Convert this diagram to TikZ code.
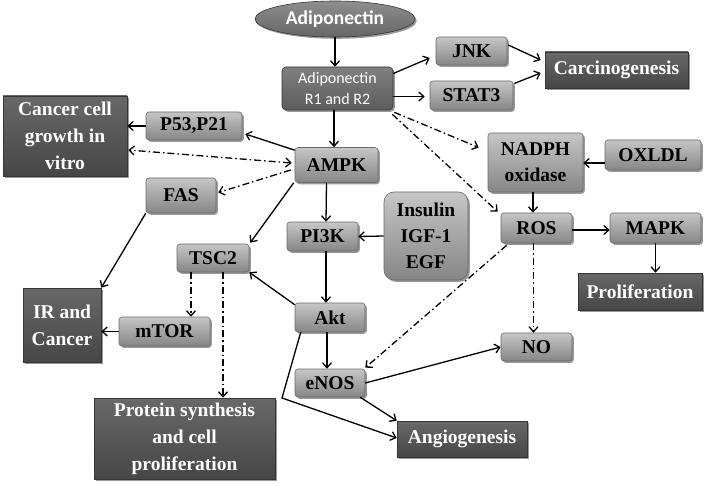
\documentclass[tikz,border=0pt]{standalone}
\usepackage{fontspec}
\setmainfont{Liberation Serif}
\newfontfamily\calib{Carlito}
\usetikzlibrary{arrows.meta,shadows,shapes.geometric}

\definecolor{lbtop}{HTML}{C6C6C6}
\definecolor{lbbot}{HTML}{868686}
\definecolor{lbdraw}{HTML}{6A6A6A}
\definecolor{dbtop}{HTML}{686868}
\definecolor{dbbot}{HTML}{464646}
\definecolor{dbdraw}{HTML}{363636}
\definecolor{eltop}{HTML}{8E8E8E}
\definecolor{elbot}{HTML}{666666}

\tikzset{
  >={Straight Barb[length=5pt,width=9pt]},
  sz/.style 2 args={minimum width=#1pt, minimum height=#2pt},
  base/.style={inner sep=2pt, align=center,
    drop shadow={shadow xshift=1.8pt, shadow yshift=-1.8pt, opacity=.4, fill=black}},
  lbox/.style={base, rounded corners=3pt, draw=lbdraw, line width=.6pt,
    top color=lbtop, bottom color=lbbot, text=black,
    font=\fontsize{19.5}{26}\selectfont\bfseries},
  dbox/.style={base, draw=dbdraw, line width=.6pt,
    top color=dbtop, bottom color=dbbot, text=white,
    font=\fontsize{19.5}{27}\selectfont\bfseries},
  rbox/.style={base, rounded corners=4pt, draw=dbdraw, line width=.6pt,
    top color=eltop!90!black, bottom color=elbot!90!black, text=white,
    font=\calib\fontsize{16}{21}\selectfont},
  ell/.style={base, ellipse, draw=dbdraw, line width=.6pt,
    top color=eltop, bottom color=elbot, text=white,
    font=\calib\fontsize{19.5}{22}\selectfont\bfseries},
  arr/.style={->, line width=1.3pt},
  dd/.style={->, line width=1.3pt, dash pattern=on 7pt off 3pt on 1.5pt off 3pt},
}

\begin{document}
\begin{tikzpicture}[x=1pt,y=-1pt]
\useasboundingbox (0,0) rectangle (711,486);
\fill[white] (0,0) rectangle (711,486);

% nodes
\node[ell,sz={160}{36}] (adipo) at (335,19) {Adiponectin};
\node[rbox,sz={111}{43}] (r12) at (337.5,88.5) {Adiponectin\\R1 and R2};
\node[lbox,sz={71}{28}] (jnk) at (471.5,51) {JNK};
\node[lbox,sz={83}{29}] (stat3) at (471.5,95.5) {STAT3};
\node[dbox,sz={143}{36}] (carc) at (616.5,70) {Carcinogenesis};
\node[dbox,sz={124}{80}] (ccg) at (65,136) {Cancer cell\\growth in\\vitro};
\node[lbox,sz={96}{28}] (p53) at (194,126) {P53,P21};
\node[lbox,sz={83}{35}] (ampk) at (336.5,165) {AMPK};
\node[lbox,sz={95}{59}] (nadph) at (535.5,162.5) {NADPH\\oxidase};
\node[lbox,sz={96}{30}] (oxldl) at (653,155) {OXLDL};
\node[lbox,sz={70}{35}] (fas) at (181,195.5) {FAS};
\node[lbox,sz={71}{29}] (pi3k) at (322.5,236.5) {PI3K};
\node[lbox,sz={84}{88},rounded corners=10pt] (ins) at (426,236) {Insulin\\IGF-1\\EGF};
\node[lbox,sz={72}{28}] (tsc2) at (213,258) {TSC2};
\node[lbox,sz={71}{30}] (ros) at (536.5,228) {ROS};
\node[lbox,sz={91}{30}] (mapk) at (655.5,228) {MAPK};
\node[dbox,sz={124}{37}] (prolif) at (640,291.5) {Proliferation};
\node[lbox,sz={70}{29}] (akt) at (330,317.5) {Akt};
\node[dbox,sz={78}{74}] (irc) at (62,325) {IR and\\Cancer};
\node[lbox,sz={91}{29}] (mtor) at (164.5,331.5) {mTOR};
\node[lbox,sz={71}{28}] (no) at (536.5,347) {NO};
\node[lbox,sz={70}{28}] (enos) at (330,383) {eNOS};
\node[dbox,sz={130}{36}] (angio) at (462,439) {Angiogenesis};
\node[dbox,sz={181}{81}] (prot) at (184.5,438.5) {Protein synthesis\\and cell\\proliferation};
\coordinate (bend) at (282,398);

% connectors
\draw[arr] (adipo.south) -- (adipo.south |- r12.north);
\draw[arr] ([shift={(0,-15)}]r12.east) -- ([shift={(-6,7)}]jnk.west);
\draw[arr] ([shift={(0,8)}]r12.east) -- ([shift={(-5,1)}]stat3.west);
\draw[arr] ([shift={(1,-6)}]jnk.east) -- ([shift={(-4,-10)}]carc.west);
\draw[arr] ([shift={(1,-12)}]stat3.east) -- ([shift={(-4,3)}]carc.west);
\draw[dd] ([shift={(1,2)}]r12.south east) -- ([shift={(-9,-15)}]nadph.west);
\draw[dd] ([shift={(-1,4)}]r12.south east) -- ([shift={(-3,-1)}]ros.north west);
\draw[arr] ([shift={(-3.5,0)}]r12.south) -- ([shift={(-2.5,0)}]ampk.north);
\draw[arr] ([shift={(0,3)}]ampk.north west) -- ([shift={(3,8)}]p53.east);
\draw[arr] (p53.west) -- (p53.west -| ccg.east);
\draw[dd,<->] ([shift={(-3,-2)}]ampk.west) -- ([shift={(1,14)}]ccg.east);
\draw[dd] ([shift={(-4,5)}]ampk.west) -- ([shift={(2,-3)}]fas.east);
\draw[arr] ([shift={(-1,0)}]ampk.south west) -- ([shift={(1,-1)}]tsc2.north east);
\draw[arr] ([shift={(-10,0)}]ampk.south) -- ([shift={(3.5,0)}]pi3k.north);
\draw[arr] (fas.south west) -- (irc.north east);
\draw[arr] (ins.west) -- (pi3k.east);
\draw[arr] ([shift={(3.5,0)}]pi3k.south) -- ([shift={(-4,0)}]akt.north);
\draw[arr] ([shift={(0,2)}]akt.north west) -- (tsc2.south east);
\draw[dd] ([shift={(-22,0)}]tsc2.south) -- ([shift={(-22,0)}]tsc2.south |- mtor.north);
\draw[dd] ([shift={(10,0)}]tsc2.south) -- ([shift={(10,0)}]tsc2.south |- prot.north);
\draw[arr] (mtor.west) -- (mtor.west -| irc.east);
\draw[arr] ([shift={(-3,0)}]akt.south) -- ([shift={(-3,0)}]enos.north);
\draw[arr] ([shift={(6,0)}]akt.south west) -- (bend) -- ([shift={(0,-1)}]angio.west);
\draw[arr] ([shift={(-5,0)}]enos.south east) -- (angio.north west);
\draw[arr] (enos.east) -- (no.west);
\draw[dd] ([shift={(-3,0)}]ros.south) -- ([shift={(-3,0)}]no.north);
\draw[dd] ([shift={(6,2)}]ros.south west) -- ([shift={(0,-1)}]enos.north east);
\draw[arr] ([shift={(0,8)}]oxldl.west) -- ([shift={(0,0.5)}]nadph.east);
\draw[arr] ([shift={(-2.5,0)}]nadph.south) -- ([shift={(-3.5,0)}]ros.north);
\draw[arr] ([shift={(0,2)}]ros.east) -- ([shift={(0,2)}]mapk.west);
\draw[arr] (mapk.south) -- (mapk.south |- prolif.north);
\end{tikzpicture}
\end{document}
